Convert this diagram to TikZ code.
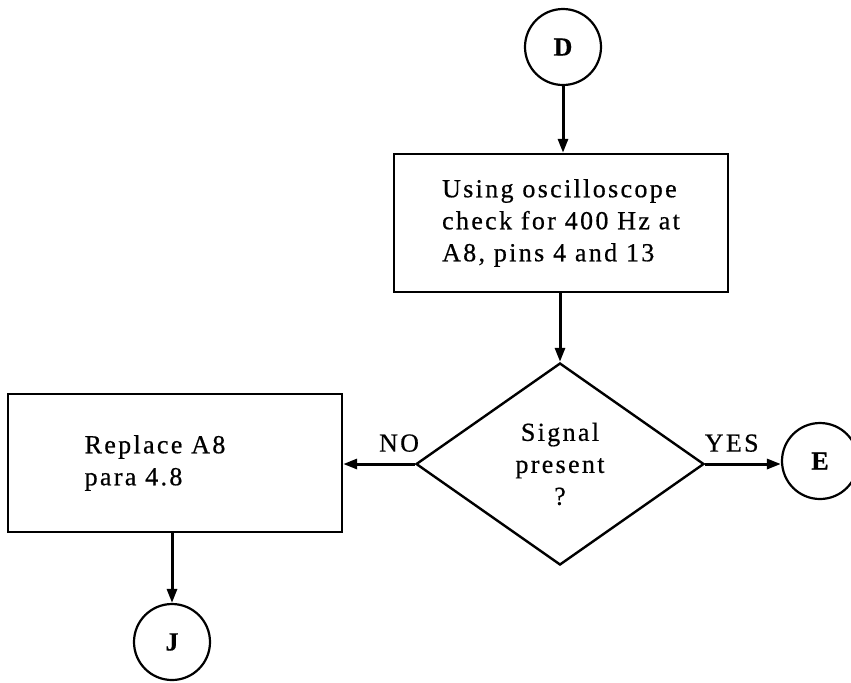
\documentclass[tikz,border=0pt]{standalone}
\usepackage{fontspec}
\setmainfont{Liberation Serif}[LetterSpace=9, FakeBold=0.6]
\usetikzlibrary{positioning, arrows.meta, shapes.geometric}

\begin{document}
\begin{tikzpicture}[
  x=0.5pt, y=-0.5pt,
  >={Triangle[length=7pt, width=5pt]},
  every node/.style={font=\fontsize{13}{16}\selectfont},
  link/.style={draw, circle, line width=1.1pt, minimum size=38pt, inner sep=0pt, font=\fontsize{13}{16}\selectfont\bfseries},
  taskbox/.style={draw, rectangle, line width=1.2pt, minimum width=167pt, minimum height=69pt, align=left},
  decision/.style={draw, diamond, line width=1.2pt, minimum width=144pt, minimum height=101pt, inner sep=0pt, align=center},
  conn/.style={->, line width=1.5pt}
]
  \useasboundingbox (0,0) rectangle (851,682);

  \node[link] (D) at (563,47) {D};
  \node[taskbox] (check) at (561,223) {Using oscilloscope\\check for 400 Hz at\\A8, pins 4 and 13};
  \node[decision] (signal) at (560,464) {Signal\\present\\?};
  \node[link] (E) at (820,461) {E};
  \node[taskbox] (replace) at (175,463) {Replace A8\hspace*{20pt}\\para 4.8};
  \node[link] (J) at (172,642) {J};

  \draw[conn] (D.south) -- (D.south |- check.north);
  \draw[conn] (check.south -| signal.north) -- (signal.north);
  \draw[conn] (signal.west) -- node[above, pos=0.22, yshift=2pt] {NO} (replace.east |- signal.west);
  \draw[conn] (signal.east) -- node[above, pos=0.35, yshift=2pt] {YES} (E.west |- signal.east);
  \draw[conn] (replace.south -| J.north) -- (J.north);
\end{tikzpicture}
\end{document}
